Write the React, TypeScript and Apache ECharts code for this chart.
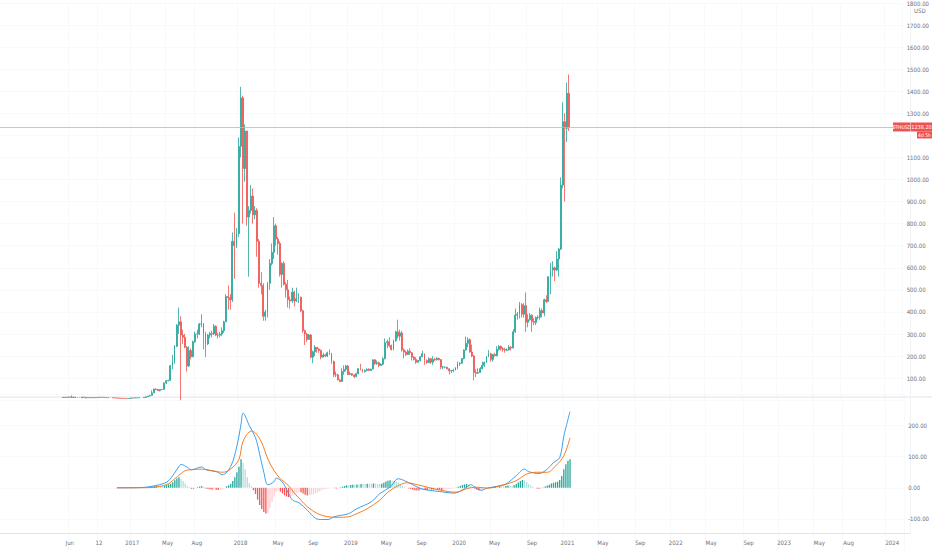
import { useEffect, useRef } from 'react'
import * as echarts from 'echarts'

// weekly time scale: first Monday on the axis and number of weekly slots
const axisStart = '2015-10-19'
const axisWeeks = 437
const candleStart = '2016-05-16'
const histStart = '2017-01-02'

// ETHUSD weekly candles, [open, close, low, high]
const candles2016 = [
  [12.5, 13.3, 11.5, 14.5], [13.3, 12.5, 12.0, 13.9], [12.5, 13.9, 12.2, 14.4], [13.9, 14.6, 13.6, 15.0],
  [14.6, 12.6, 11.7, 21.4], [12.6, 14.1, 11.4, 14.6], [14.1, 12.3, 11.6, 14.3], [12.3, 10.6, 10.0, 12.5],
  [10.6, 11.2, 10.4, 12.4], [11.2, 13.9, 11.2, 14.8], [13.9, 12.5, 11.8, 14.2], [12.5, 11.0, 8.0, 12.6],
  [11.0, 11.7, 10.6, 12.3], [11.7, 11.2, 10.7, 11.9], [11.2, 11.1, 10.8, 11.6], [11.1, 12.0, 11.0, 12.3],
  [12.0, 11.8, 11.4, 12.2], [11.8, 12.7, 11.5, 13.1], [12.7, 12.9, 12.4, 13.3], [12.9, 13.2, 12.8, 13.5],
  [13.2, 12.1, 11.9, 13.4], [12.1, 11.9, 11.7, 12.5], [11.9, 11.9, 11.6, 12.1], [11.9, 11.1, 10.8, 12.0],
  [11.1, 10.8, 10.4, 11.3], [10.8, 10.0, 9.8, 11.0], [10.0, 9.6, 9.3, 10.2], [9.6, 8.9, 8.6, 9.8],
  [8.9, 8.4, 8.2, 9.0], [8.4, 7.9, 7.6, 8.5], [7.9, 7.6, 7.4, 8.3], [7.6, 7.3, 7.0, 7.9],
  [7.3, 8.0, 7.1, 8.4]
]
const candles2017 = [
  [8.0, 10.1, 7.9, 11.2], [10.1, 9.7, 9.5, 10.5], [9.7, 10.6, 9.6, 11.0], [10.6, 10.6, 10.3, 10.9],
  [10.6, 11.3, 10.5, 11.5], [11.3, 11.3, 10.9, 11.5], [11.3, 12.8, 11.2, 13.0], [12.8, 15.5, 12.5, 15.8],
  [15.5, 19.3, 15.2, 19.6], [19.3, 22.0, 18.0, 23.0], [22.0, 33.0, 21.5, 45.0], [33.0, 50.5, 33.0, 53.0],
  [50.5, 48.5, 45.0, 53.5], [48.5, 43.0, 42.0, 51.0], [43.0, 48.0, 40.0, 50.0], [48.0, 49.0, 46.5, 51.0],
  [49.0, 78.0, 49.0, 80.0], [78.0, 88.0, 73.0, 92.0], [88.0, 89.5, 85.0, 92.0], [89.5, 156, 88, 160],
  [156, 172, 140, 205], [172, 245, 165, 250], [245, 340, 240, 345], [340, 355, 300, 420],
  [355, 295, 0.1, 380], [295, 285, 255, 320], [285, 240, 235, 300], [240, 155, 130, 245],
  [155, 225, 150, 245], [225, 197, 185, 235], [197, 265, 195, 270], [265, 300, 260, 310],
  [300, 300, 280, 320], [300, 345, 295, 350], [345, 345, 330, 390], [345, 300, 230, 350],
  [300, 255, 195, 310], [255, 295, 250, 300], [295, 302, 280, 310], [302, 300, 285, 315],
  [300, 335, 295, 345], [335, 295, 290, 340], [295, 295, 280, 305], [295, 300, 285, 310],
  [300, 315, 290, 330], [315, 355, 305, 360], [355, 470, 355, 480], [470, 465, 410, 520],
  [465, 455, 410, 480], [455, 720, 445, 760], [720, 700, 550, 850], [700, 755, 690, 780]
]
const candles2018 = [
  [755, 1150, 740, 1190], [1150, 1370, 1100, 1420], [1370, 1050, 800, 1380], [1050, 1220, 990, 1250],
  [1220, 830, 790, 1220], [830, 860, 560, 880], [860, 925, 845, 975], [925, 840, 800, 960],
  [840, 860, 820, 880], [860, 720, 650, 870], [720, 530, 510, 730], [530, 520, 480, 580],
  [520, 380, 360, 530], [380, 400, 360, 410], [400, 530, 375, 535], [530, 620, 500, 640],
  [620, 670, 610, 710], [670, 790, 640, 830], [790, 730, 700, 800], [730, 710, 660, 740],
  [710, 570, 560, 720], [570, 620, 510, 625], [620, 525, 520, 630], [525, 500, 465, 535],
  [500, 455, 420, 545], [455, 450, 415, 470], [450, 490, 440, 510], [490, 450, 425, 495],
  [450, 460, 445, 510], [460, 467, 440, 485], [467, 405, 400, 470], [405, 315, 305, 410],
  [315, 300, 250, 320], [300, 275, 265, 305], [275, 295, 275, 300], [295, 195, 190, 300],
  [195, 220, 168, 225], [220, 240, 200, 250], [240, 232, 215, 240], [232, 225, 215, 235],
  [225, 195, 185, 230], [195, 205, 195, 215], [205, 200, 195, 210], [200, 215, 195, 220],
  [215, 210, 205, 230], [210, 175, 165, 215], [175, 115, 105, 180], [115, 115, 105, 130],
  [115, 92, 90, 120], [92, 85, 82, 95], [85, 130, 83, 145], [130, 140, 115, 158],
  [140, 155, 130, 160]
]
const candles2019 = [
  [155, 117, 114, 160], [117, 120, 115, 130], [120, 113, 110, 123], [113, 107, 100, 118],
  [107, 120, 104, 125], [120, 143, 118, 145], [143, 138, 135, 165], [138, 130, 125, 142],
  [130, 135, 125, 140], [135, 140, 130, 145], [140, 135, 132, 145], [135, 141, 132, 143],
  [141, 183, 140, 185], [183, 166, 160, 185], [166, 170, 160, 180], [170, 157, 150, 175],
  [157, 163, 155, 167], [163, 188, 158, 195], [188, 260, 185, 280], [260, 265, 235, 275],
  [265, 248, 240, 285], [248, 230, 225, 252], [230, 270, 225, 275], [270, 310, 265, 315],
  [310, 290, 280, 365], [290, 305, 270, 320], [305, 228, 220, 315], [228, 218, 190, 235],
  [218, 207, 200, 225], [207, 222, 205, 230], [222, 215, 205, 235], [215, 195, 180, 218],
  [195, 185, 180, 200], [185, 172, 165, 195], [172, 180, 170, 182], [180, 197, 175, 200],
  [197, 210, 195, 225], [210, 180, 160, 212], [180, 170, 165, 185], [170, 188, 170, 195],
  [188, 172, 165, 192], [172, 185, 160, 200], [185, 183, 178, 192], [183, 190, 180, 195],
  [190, 184, 180, 192], [184, 150, 140, 186], [150, 150, 140, 155], [150, 150, 145, 152],
  [150, 142, 140, 150], [142, 133, 117, 145], [133, 134, 123, 138], [134, 136, 127, 142]
]
const candles2020 = [
  [136, 146, 135, 150], [146, 166, 140, 175], [166, 168, 155, 172], [168, 189, 165, 190],
  [189, 228, 185, 230], [228, 258, 225, 288], [258, 274, 240, 285], [274, 218, 215, 280],
  [218, 200, 195, 252], [200, 125, 90, 205], [125, 122, 105, 140], [122, 125, 120, 145],
  [125, 143, 125, 150], [143, 158, 140, 175], [158, 171, 150, 175], [171, 197, 170, 200],
  [197, 210, 195, 227], [210, 185, 175, 215], [185, 207, 175, 210], [207, 202, 198, 215],
  [202, 231, 198, 245], [231, 244, 225, 250], [244, 234, 225, 248], [234, 230, 220, 240],
  [230, 226, 215, 238], [226, 228, 222, 235], [228, 240, 225, 250], [240, 236, 225, 245],
  [236, 310, 235, 322], [310, 385, 305, 415], [385, 390, 365, 400], [390, 433, 370, 445],
  [433, 390, 375, 440], [390, 428, 375, 440], [428, 353, 310, 488], [353, 365, 330, 390],
  [365, 385, 360, 395], [385, 357, 310, 390], [357, 352, 340, 372], [352, 375, 340, 380],
  [375, 376, 365, 385], [376, 407, 365, 420], [407, 395, 375, 415], [395, 455, 380, 460],
  [455, 447, 440, 475], [447, 560, 445, 560], [560, 590, 480, 622], [590, 600, 560, 630],
  [600, 590, 540, 605], [590, 640, 585, 675], [640, 685, 560, 690], [685, 975, 680, 1010]
]
const candles2021 = [
  [975, 1262, 960, 1350], [1262, 1232, 900, 1300], [1232, 1391, 1170, 1440], [1391, 1238.2, 1220, 1476]
]

// MACD histogram, one value per week from histStart
const hist2017 = [
  0.1, 0.2, 0.2, 0.3, 0.3, 0.4, 0.5, 0.7, 1.0, 1.8, 3.2, 5.0, 6.5, 6.2, 5.4, 4.8, 6.0, 9, 11, 13,
  18, 24, 30, 34, 28, 22, 14, 6, -1, -3, -3, -1, 2, 4, 5, 3, -2, -4, -5, -6, -5, -6, -7, -6, -4, -2,
  5, 8, 12, 22, 34, 50
]
const hist2018 = [
  68, 92, 80, 60, 34, 15, 5, -8, -20, -38, -55, -68, -78, -83, -82, -65, -45, -28, -15, -9, -12, -18,
  -24, -28, -30, -28, -25, -21, -17, -13, -14, -18, -22, -25, -24, -22, -21, -18, -15, -11, -8, -5,
  -3, -2, -1, 0.5, -1, -2, -1, 1, 3, 6, 8
]
const hist2019 = [
  8, 9, 10, 10, 11, 11, 12, 12, 12, 13, 13, 13, 14, 13, 12, 12, 13, 16, 20, 23, 24, 23, 22, 20, 18,
  12, 7, 3, 0, -2, -4, -6, -8, -9, -9, -8, -7, -7, -7, -6, -6, -6, -5, -5, -6, -7, -6, -5, -4, -3, -2, 0
]
const hist2020 = [
  1, 3, 6, 9, 11, 12, 10, 6, 2, -3, -6, -8, -7, -5, -3, -1, 1, 2, 3, 4, 4, 5, 5, 5, 6, 7, 7, 6, 8, 12,
  17, 22, 25, 24, 18, 12, 7, 3, 0, -2, -3, -2, 1, 4, 7, 10, 14, 16, 18, 20, 25, 38
]
const hist2021 = [60, 76, 87, 92]

const macdLine: [string, number][] = [
  ['2016-11-14', 0], ['2017-01-30', 0.5], ['2017-03-13', 5], ['2017-05-01', 18], ['2017-05-22', 39],
  ['2017-06-12', 69], ['2017-06-19', 75], ['2017-07-10', 66], ['2017-07-24', 58], ['2017-08-28', 67],
  ['2017-09-11', 58], ['2017-10-16', 52], ['2017-11-06', 42], ['2017-12-04', 69], ['2017-12-25', 134],
  ['2018-01-08', 205], ['2018-01-15', 240], ['2018-02-05', 200], ['2018-02-26', 161], ['2018-03-12', 108],
  ['2018-03-26', 50], ['2018-04-09', 10], ['2018-04-30', 20], ['2018-05-07', 31], ['2018-05-28', 18],
  ['2018-06-18', -19], ['2018-07-02', -40], ['2018-07-23', -48], ['2018-08-20', -72], ['2018-09-17', -98],
  ['2018-10-08', -102], ['2018-10-29', -102], ['2018-11-19', -93], ['2019-01-07', -83], ['2019-02-04', -67],
  ['2019-03-25', -45], ['2019-04-22', -19], ['2019-05-27', 2], ['2019-06-24', 29], ['2019-07-15', 23],
  ['2019-08-12', 10], ['2019-09-09', -3], ['2019-10-07', -8], ['2019-11-11', -12], ['2019-12-30', -17],
  ['2020-02-03', -3], ['2020-02-24', 10], ['2020-03-09', 2], ['2020-03-30', -8], ['2020-04-20', -1],
  ['2020-05-25', 5], ['2020-06-22', 12], ['2020-07-27', 39], ['2020-08-24', 60], ['2020-09-07', 52],
  ['2020-10-12', 46], ['2020-11-09', 60], ['2020-11-30', 81], ['2020-12-21', 97], ['2021-01-04', 166],
  ['2021-01-25', 245]
]
const signalLine: [string, number][] = [
  ['2016-11-14', 0], ['2017-02-27', 0.5], ['2017-05-01', 10], ['2017-05-29', 29], ['2017-07-03', 55],
  ['2017-07-24', 58], ['2017-08-28', 60], ['2017-10-02', 55], ['2017-11-06', 50], ['2017-12-04', 60],
  ['2018-01-01', 92], ['2018-01-15', 150], ['2018-02-12', 182], ['2018-02-26', 176], ['2018-03-19', 145],
  ['2018-04-09', 92], ['2018-04-30', 55], ['2018-05-21', 29], ['2018-06-18', 7], ['2018-07-09', -19],
  ['2018-07-30', -40], ['2018-08-20', -61], ['2018-09-24', -83], ['2018-10-29', -93], ['2018-12-03', -95],
  ['2019-01-07', -93], ['2019-02-04', -83], ['2019-03-11', -67], ['2019-04-22', -40], ['2019-05-20', -14],
  ['2019-06-24', 7], ['2019-07-22', 16], ['2019-09-09', 7], ['2019-10-21', -3], ['2019-12-09', -12],
  ['2020-01-06', -14], ['2020-02-10', -3], ['2020-03-16', 2], ['2020-04-20', -1], ['2020-06-15', 10],
  ['2020-07-27', 23], ['2020-08-31', 44], ['2020-10-05', 50], ['2020-11-09', 50], ['2020-12-07', 70],
  ['2021-01-04', 103], ['2021-01-25', 161]
]

// time scale labels
const tickDates = [
  '2016-06-06', '2016-09-12', '2017-01-02', '2017-05-01', '2017-08-07', '2018-01-01', '2018-05-07',
  '2018-09-03', '2019-01-07', '2019-05-06', '2019-09-02', '2020-01-06', '2020-05-04', '2020-09-07',
  '2021-01-04', '2021-05-03', '2021-09-06', '2022-01-03', '2022-05-02', '2022-09-05', '2023-01-02',
  '2023-05-01', '2023-08-07', '2024-01-01'
]
const tickTexts = [
  'Jun', '12', '2017', 'May', 'Aug', '2018', 'May', 'Sep', '2019', 'May', 'Sep', '2020', 'May', 'Sep',
  '2021', 'May', 'Sep', '2022', 'May', 'Sep', '2023', 'May', 'Aug', '2024'
]

const symbol = 'ETHUSD'
const lastPrice = 1238.2
const countdown = '4d 5h'

const UP = '#26a69a'
const DOWN = '#ef5350'
const TEXT = '#6b6f7a'
const GRID = '#f8f9fb'
const FONT = "'Liberation Sans Narrow', 'DejaVu Sans Condensed', 'Liberation Sans', sans-serif"

export default function App() {
  const chartRef = useRef<HTMLDivElement>(null)

  useEffect(() => {
    if (!chartRef.current) return
    const chart = echarts.init(chartRef.current, null, { renderer: 'svg' })

    const DAY = 86400000
    const t0 = Date.parse(axisStart)
    const weeks: string[] = []
    for (let i = 0; i < axisWeeks; i++) {
      weeks.push(new Date(t0 + i * 7 * DAY).toISOString().slice(0, 10))
    }
    const weekIndex = (d: string) => Math.round((Date.parse(d) - t0) / (7 * DAY))

    const candles = [...candles2016, ...candles2017, ...candles2018, ...candles2019, ...candles2020, ...candles2021]
    const c0 = weekIndex(candleStart)
    const candleData = candles.map((c, i) => [c0 + i, c[0], c[1], c[2], c[3]])

    const hist = [...hist2017, ...hist2018, ...hist2019, ...hist2020, ...hist2021]
    const h0 = weekIndex(histStart)
    const histData = hist.map((v, i) => {
      const prev = i > 0 ? hist[i - 1] : 0
      const color = v >= 0 ? (v > prev ? '#26a69a' : '#b2dfdb') : (v > prev ? '#ffcdd2' : '#ff5252')
      return { value: [h0 + i, v], itemStyle: { color } }
    })

    const tickMap = new Map<string, string>()
    tickDates.forEach((d, i) => tickMap.set(d, tickTexts[i]))
    const isTick = (index: number) => tickMap.has(weeks[index])

    const gridLine = { show: true, interval: isTick, lineStyle: { color: GRID, width: 1 } }

    const option = {
      animation: false,
      backgroundColor: '#ffffff',
      grid: [
        { left: 0, right: 22, top: 0.6, height: 399.6 },
        { left: 0, right: 22, top: 394.5, height: 157.5 },
        { left: 0, right: 22, top: 532, height: 1 }
      ],
      xAxis: [
        {
          type: 'category', gridIndex: 0, data: weeks,
          axisLine: { show: false }, axisTick: { show: false }, axisLabel: { show: false },
          splitLine: gridLine
        },
        {
          type: 'category', gridIndex: 1, data: weeks,
          axisLine: { show: false }, axisTick: { show: false }, axisLabel: { show: false },
          splitLine: gridLine
        },
        {
          type: 'category', gridIndex: 2, data: weeks,
          axisLine: { show: true, lineStyle: { color: '#e0e3eb', width: 1 } },
          axisTick: { show: false },
          axisLabel: {
            interval: isTick,
            margin: 6,
            color: TEXT,
            fontSize: 6,
            fontFamily: FONT,
            formatter: (value: string) => tickMap.get(value) ?? ''
          },
          splitLine: { show: false }
        }
      ],
      yAxis: [
        {
          type: 'value', gridIndex: 0, position: 'right', min: 0, max: 1800, interval: 100,
          axisLine: { show: false }, axisTick: { show: false },
          axisLabel: {
            margin: 4, color: TEXT, fontSize: 6, fontFamily: FONT, align: 'left',
            // the level under the price tag is covered by it
            formatter: (v: number) => (v <= 0 || Math.abs(v - lastPrice) < 60 ? '' : v.toFixed(2))
          },
          splitLine: { show: true, lineStyle: { color: GRID, width: 1 } }
        },
        {
          type: 'value', gridIndex: 1, position: 'right', min: -200, max: 300, interval: 100,
          axisLine: { show: false }, axisTick: { show: false },
          axisLabel: {
            margin: 4, color: TEXT, fontSize: 6, fontFamily: FONT, align: 'left',
            formatter: (v: number) => (v < -100 || v > 200 ? '' : v.toFixed(2))
          },
          splitLine: { show: true, lineStyle: { color: GRID, width: 1 } }
        },
        {
          type: 'value', gridIndex: 2, show: false
        }
      ],
      series: [
        {
          name: symbol,
          type: 'candlestick',
          xAxisIndex: 0,
          yAxisIndex: 0,
          data: candleData,
          encode: { x: 0, y: [1, 2, 3, 4] },
          barWidth: '68%',
          itemStyle: {
            color: UP, color0: DOWN, borderColor: UP, borderColor0: DOWN, borderWidth: 0.8
          },
          markLine: {
            silent: true,
            symbol: 'none',
            label: { show: false },
            lineStyle: { color: '#f4a19f', width: 0.8, type: 'solid', opacity: 1 },
            emphasis: { disabled: true },
            data: [{ yAxis: lastPrice }]
          }
        },
        {
          name: 'Histogram',
          type: 'bar',
          xAxisIndex: 1,
          yAxisIndex: 1,
          data: histData,
          barWidth: 1.3
        },
        {
          name: 'MACD',
          type: 'line',
          xAxisIndex: 1,
          yAxisIndex: 1,
          data: macdLine.map(([d, v]) => [weekIndex(d), v]),
          smooth: 0.35,
          showSymbol: false,
          lineStyle: { color: '#2196f3', width: 0.9 }
        },
        {
          name: 'Signal',
          type: 'line',
          xAxisIndex: 1,
          yAxisIndex: 1,
          data: signalLine.map(([d, v]) => [weekIndex(d), v]),
          smooth: 0.35,
          showSymbol: false,
          lineStyle: { color: '#ff6d00', width: 0.9 }
        }
      ]
    }

    chart.setOption(option)

    // price tags sit on the last price level
    const py = chart.convertToPixel({ yAxisIndex: 0 }, lastPrice) as number
    chart.setOption({
      graphic: [
        { type: 'line', shape: { x1: 0, y1: 397, x2: 932, y2: 397 }, style: { stroke: '#e0e3eb', lineWidth: 1 } },
        { type: 'line', shape: { x1: 910.5, y1: 0, x2: 910.5, y2: 533 }, style: { stroke: '#f0f2f5', lineWidth: 1 } },
        {
          type: 'text', x: 914, y: 10,
          style: { text: 'USD', fill: TEXT, fontSize: 6, fontFamily: FONT, align: 'left', verticalAlign: 'middle' }
        },
        { type: 'rect', shape: { x: 893, y: py - 4.5, width: 17.5, height: 9 }, style: { fill: DOWN } },
        {
          type: 'text', x: 901.7, y: py,
          style: { text: symbol, fill: '#ffffff', fontSize: 5, fontFamily: FONT, align: 'center', verticalAlign: 'middle' }
        },
        { type: 'rect', shape: { x: 911, y: py - 4.5, width: 21, height: 9 }, style: { fill: DOWN } },
        {
          type: 'text', x: 921.5, y: py,
          style: { text: lastPrice.toFixed(2), fill: '#ffffff', fontSize: 5.5, fontFamily: FONT, align: 'center', verticalAlign: 'middle' }
        },
        { type: 'rect', shape: { x: 917, y: py + 4.5, width: 15, height: 7 }, style: { fill: DOWN } },
        {
          type: 'text', x: 924.5, y: py + 8,
          style: { text: countdown, fill: '#ffffff', fontSize: 5, fontFamily: FONT, align: 'center', verticalAlign: 'middle' }
        }
      ]
    })

    return () => {
      chart.dispose()
    }
  }, [])

  return (
    <div
      ref={chartRef}
      style={{ position: 'fixed', left: 0, top: 0, width: 932, height: 550, background: '#ffffff' }}
    />
  )
}
